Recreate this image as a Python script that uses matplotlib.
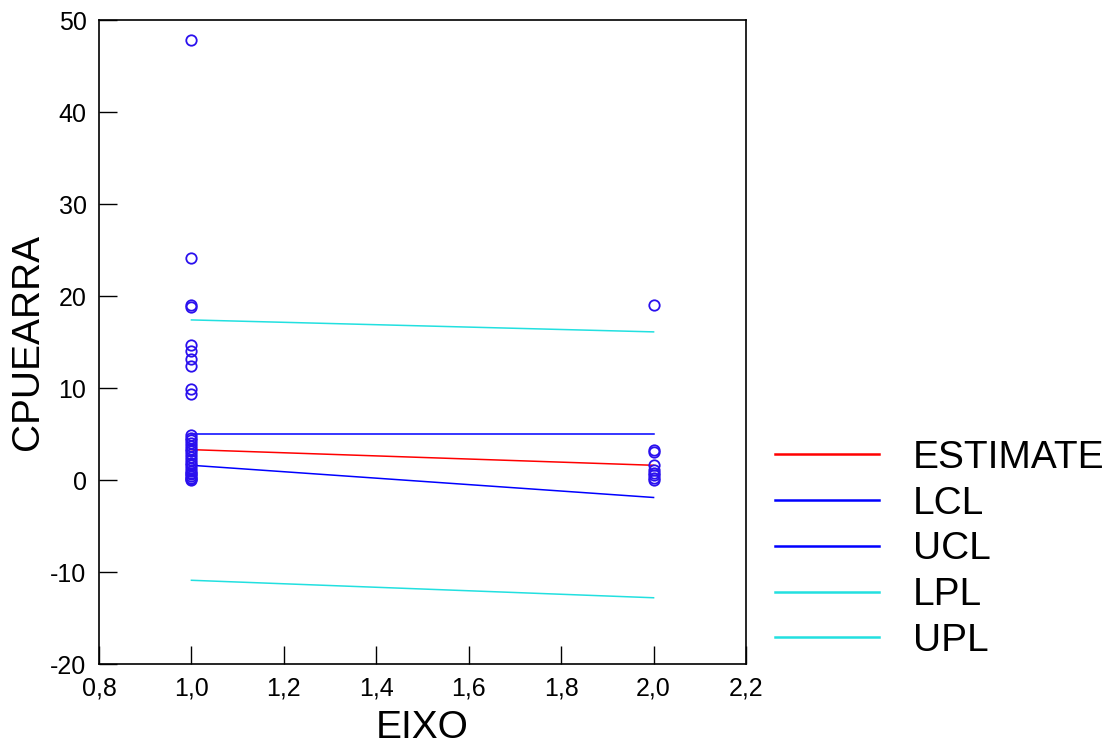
import numpy as np
import matplotlib
matplotlib.use("Agg")
import matplotlib.pyplot as plt
from matplotlib.lines import Line2D

plt.rcParams['font.family'] = ['Liberation Sans', 'DejaVu Sans']

# observed CPUE values per EIXO level
x_obs1 = [47.8, 24.1, 19.0, 18.8, 14.7, 14.0, 13.2, 12.4, 9.9, 9.3,
          4.9, 4.6, 4.3, 4.0, 3.7, 3.4, 3.1, 2.8, 2.5, 2.2, 1.9, 1.6,
          1.3, 1.0, 0.8, 0.6, 0.4, 0.2, 0.1, 0.0]
x_obs2 = [19.0, 3.3, 3.0, 1.6, 1.1, 0.8, 0.5, 0.2, 0.0]

# fitted line and limits at EIXO = 1 and 2
eixo = [1.0, 2.0]
estimate = [3.3, 1.6]
lcl = [1.6, -1.9]
ucl = [5.0, 5.0]
lpl = [-10.9, -12.8]
upl = [17.4, 16.1]

xticks = [0.8, 1.0, 1.2, 1.4, 1.6, 1.8, 2.0, 2.2]
yticks = [-20, -10, 0, 10, 20, 30, 40, 50]

RED = '#ff0000'
BLUE = '#0000ff'
CYAN = '#22e0e0'
MARK = '#2a10ee'

fig = plt.figure(figsize=(11.14, 7.53), dpi=100)
ax = fig.add_axes([99/1114, 1-664/753, (746-99)/1114, (664-20)/753])

ax.plot(eixo, estimate, color=RED, lw=1.1)
ax.plot(eixo, lcl, color=BLUE, lw=1.1)
ax.plot(eixo, ucl, color=BLUE, lw=1.1)
ax.plot(eixo, lpl, color=CYAN, lw=1.1)
ax.plot(eixo, upl, color=CYAN, lw=1.1)

ax.plot([1.0]*len(x_obs1), x_obs1, 'o', mfc='none', mec=MARK, ms=7.5, mew=1.3)
ax.plot([2.0]*len(x_obs2), x_obs2, 'o', mfc='none', mec=MARK, ms=7.5, mew=1.3)

ax.set_xlim(0.8, 2.2)
ax.set_ylim(-20, 50)
ax.set_xticks(xticks)
ax.set_xticklabels([f"{v:.1f}".replace('.', ',') for v in xticks])
ax.set_yticks(yticks)
ax.set_yticklabels([str(v) for v in yticks])
ax.tick_params(direction='in', length=13, width=1, labelsize=18, pad=9,
               top=False, right=False, colors='black')
for s in ax.spines.values():
    s.set_linewidth(1.2)

ax.set_xlabel('EIXO', fontsize=28, labelpad=7)
ax.set_ylabel('CPUEARRA', fontsize=28, labelpad=3)

handles = [Line2D([], [], color=c, lw=1.8) for c in [RED, BLUE, BLUE, CYAN, CYAN]]
labels = ['ESTIMATE', 'LCL', 'UCL', 'LPL', 'UPL']
ax.legend(handles, labels, loc='upper left', bbox_to_anchor=(775/1114, 1-440/753),
          bbox_transform=fig.transFigure, frameon=False, fontsize=28,
          handlelength=2.67, handletextpad=0.87, labelspacing=0.25,
          borderpad=0, borderaxespad=0)

fig.savefig('out.png', dpi=100)
